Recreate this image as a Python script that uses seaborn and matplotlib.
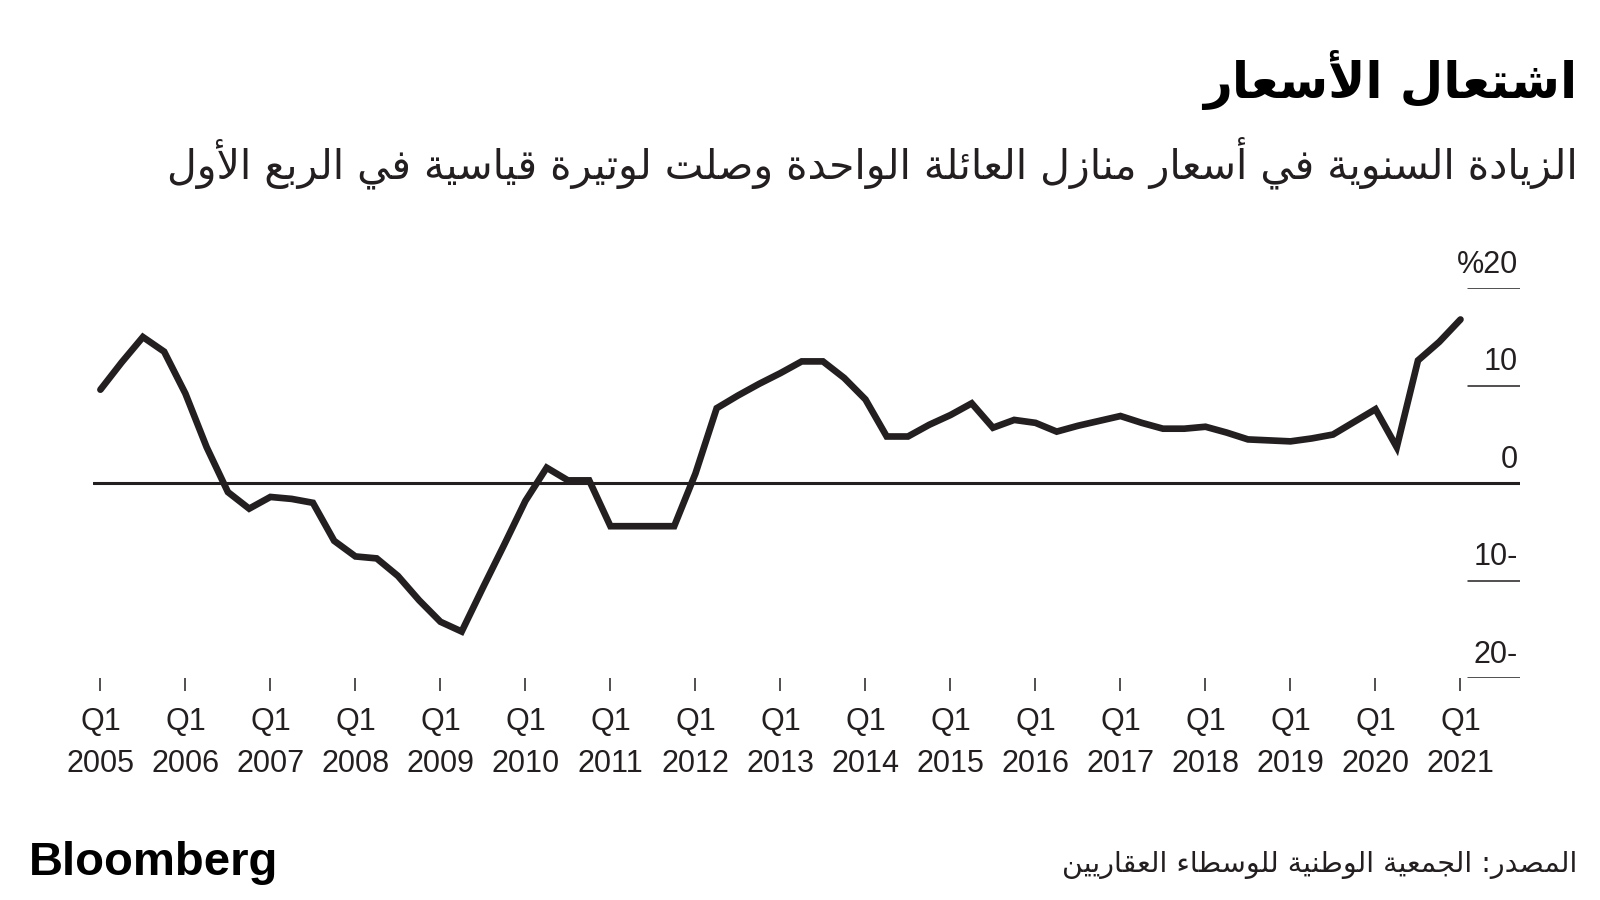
import seaborn as sns
import pandas as pd
import matplotlib.pyplot as plt

# Datos: variación anual del precio (%) por trimestre, Q1 2005 - Q1 2021
anios = list(range(2005, 2022))
cambio_anual = [
    9.6, 12.4, 15.0, 13.5, 9.2, 3.7, -0.9, -2.6,
    -1.4, -1.6, -2.0, -5.9, -7.5, -7.7, -9.5, -12.0,
    -14.2, -15.2, -10.7, -6.3, -1.8, 1.6, 0.3, 0.3,
    -4.4, -4.4, -4.4, -4.4, 1.0, 7.7, 9.0, 10.2,
    11.3, 12.5, 12.5, 10.8, 8.6, 4.8, 4.8, 6.0,
    7.0, 8.2, 5.7, 6.5, 6.2, 5.3, 5.9, 6.4,
    6.9, 6.2, 5.6, 5.6, 5.8, 5.2, 4.5, 4.4,
    4.3, 4.6, 5.0, 6.3, 7.6, 3.7, 12.6, 14.5,
    16.8,
]
etiquetas_x = [f"Q1\n{a}" for a in anios]
valores_y = [20, 10, 0, -10, -20]
etiquetas_y = ["%20", "10", "0", "10-", "20-"]

titulo = "اشتعال الأسعار"
subtitulo = "الزيادة السنوية في أسعار منازل العائلة الواحدة وصلت لوتيرة قياسية في الربع الأول"
fuente = "المصدر: الجمعية الوطنية للوسطاء العقاريين"

# Formas de presentación árabes (aislada, final, inicial, medial)
FORMAS = {
    'ء': (0xFE80, 1), 'آ': (0xFE81, 2), 'أ': (0xFE83, 2), 'ؤ': (0xFE85, 2), 'إ': (0xFE87, 2),
    'ئ': (0xFE89, 4), 'ا': (0xFE8D, 2), 'ب': (0xFE8F, 4), 'ة': (0xFE93, 2), 'ت': (0xFE95, 4),
    'ث': (0xFE99, 4), 'ج': (0xFE9D, 4), 'ح': (0xFEA1, 4), 'خ': (0xFEA5, 4), 'د': (0xFEA9, 2),
    'ذ': (0xFEAB, 2), 'ر': (0xFEAD, 2), 'ز': (0xFEAF, 2), 'س': (0xFEB1, 4), 'ش': (0xFEB5, 4),
    'ص': (0xFEB9, 4), 'ض': (0xFEBD, 4), 'ط': (0xFEC1, 4), 'ظ': (0xFEC5, 4), 'ع': (0xFEC9, 4),
    'غ': (0xFECD, 4), 'ف': (0xFED1, 4), 'ق': (0xFED5, 4), 'ك': (0xFED9, 4), 'ل': (0xFEDD, 4),
    'م': (0xFEE1, 4), 'ن': (0xFEE5, 4), 'ه': (0xFEE9, 4), 'و': (0xFEED, 2), 'ى': (0xFEEF, 2),
    'ي': (0xFEF1, 4),
}
LAM_ALEF = {'آ': 0xFEF5, 'أ': 0xFEF7, 'إ': 0xFEF9, 'ا': 0xFEFB}


def dar_forma(texto):
    # une lam + alef en ligadura
    tokens = []
    i = 0
    while i < len(texto):
        c = texto[i]
        if c == 'ل' and i + 1 < len(texto) and texto[i + 1] in LAM_ALEF:
            tokens.append(('LA', texto[i + 1]))
            i += 2
        else:
            tokens.append(('C', c))
            i += 1

    def une_siguiente(t):
        return t[0] == 'C' and t[1] in FORMAS and FORMAS[t[1]][1] == 4

    def une_anterior(t):
        return t[0] == 'LA' or (t[1] in FORMAS and FORMAS[t[1]][1] >= 2)

    salida = []
    for k, t in enumerate(tokens):
        ant = tokens[k - 1] if k > 0 else None
        sig = tokens[k + 1] if k + 1 < len(tokens) else None
        c_ant = ant is not None and une_siguiente(ant) and une_anterior(t)
        c_sig = sig is not None and une_siguiente(t) and une_anterior(sig)
        if t[0] == 'LA':
            salida.append(chr(LAM_ALEF[t[1]] + (1 if c_ant else 0)))
            continue
        c = t[1]
        if c not in FORMAS:
            salida.append(c)
            continue
        base, n = FORMAS[c]
        if n == 1:
            off = 0
        elif n == 2:
            off = 1 if c_ant else 0
        else:
            off = 3 if (c_ant and c_sig) else 1 if c_ant else 2 if c_sig else 0
        salida.append(chr(base + off))
    # orden visual de derecha a izquierda
    return ''.join(reversed(salida))


def main():
    df = pd.DataFrame({'trimestre': range(len(cambio_anual)), 'cambio': cambio_anual})

    sns.set_theme(style='white')
    plt.rcParams['font.family'] = ['Liberation Sans', 'DejaVu Sans']
    color = '#231f20'

    fig = plt.figure(figsize=(16, 9), dpi=100)
    ax = fig.add_axes([0.0581, 0.2463, 0.8919, 0.4334])

    ax.axhline(0, color=color, lw=2.2, zorder=1)
    sns.lineplot(data=df, x='trimestre', y='cambio', ax=ax, color=color,
                 lw=4.8, zorder=3, solid_joinstyle='miter', solid_capstyle='round')

    ax.set_xlim(-0.35, 66.8)
    ax.set_ylim(-20, 20)
    for s in ax.spines.values():
        s.set_visible(False)

    ax.set_xticks(range(0, len(cambio_anual), 4))
    ax.set_xticklabels(etiquetas_x, fontsize=22, color=color, linespacing=1.5)
    ax.tick_params(axis='x', length=9, width=1.1, color=color, pad=12, bottom=True)
    ax.set_yticks([])
    ax.set_xlabel('')
    ax.set_ylabel('')

    # líneas cortas de la escala a la derecha
    trans = ax.get_yaxis_transform()
    for v, lab in zip(valores_y, etiquetas_y):
        if v != 0:
            ax.plot([0.9636, 1.0], [v, v], transform=trans, color=color, lw=1.1)
        ax.annotate(lab, xy=(0.9986, v), xycoords=trans, xytext=(0, 6),
                    textcoords='offset points', ha='right', va='bottom',
                    fontsize=22, color=color)

    fig.text(0.986, 0.911, dar_forma(titulo), ha='right', va='center',
             fontsize=36, fontweight='bold', family=['DejaVu Sans'], color='black')
    fig.text(0.986, 0.819, dar_forma(subtitulo), ha='right', va='center',
             fontsize=29.5, family=['DejaVu Sans'], color=color)
    fig.text(0.986, 0.039, dar_forma(fuente), ha='right', va='center',
             fontsize=20.5, family=['DejaVu Sans'], color=color)
    fig.text(0.018, 0.028, 'Bloomberg', ha='left', va='baseline',
             fontsize=34, fontweight='bold', color='black')

    fig.savefig('out.png', dpi=100)


if __name__ == "__main__":
    main()
